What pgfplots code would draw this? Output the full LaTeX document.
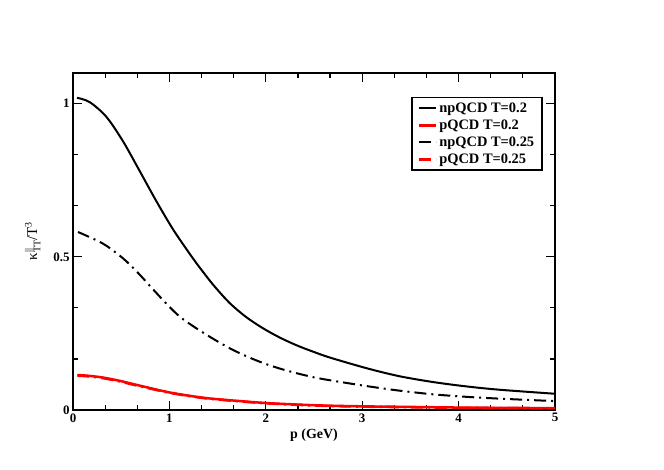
\documentclass[border=0pt]{standalone}
\usepackage{fontspec}
\setmainfont{Liberation Serif}
\usepackage{pgfplots}
\pgfplotsset{compat=1.18}
\pgfplotstableread{
p v
0.041 1.019
0.173 1.005
0.346 0.957
0.519 0.877
0.692 0.780
0.864 0.682
1.037 0.590
1.210 0.510
1.283 0.478
1.456 0.408
1.629 0.348
1.802 0.302
1.975 0.266
2.148 0.236
2.321 0.211
2.494 0.190
2.667 0.171
3.050 0.136
3.390 0.110
3.740 0.091
4.080 0.077
4.430 0.066
5.000 0.053
}\npA
\pgfplotstableread{
p v
0.052 0.581
0.311 0.543
0.519 0.495
0.676 0.447
0.833 0.393
0.972 0.346
1.110 0.304
1.283 0.266
1.456 0.232
1.629 0.201
1.802 0.175
1.975 0.153
2.148 0.135
2.321 0.120
2.494 0.107
2.667 0.097
3.047 0.078
3.390 0.063
3.740 0.051
4.080 0.043
4.430 0.037
5.000 0.029
}\npB
\pgfplotstableread{
p v
0.045 0.114
0.15 0.112
0.31 0.106
0.488 0.095
0.66 0.082
1.006 0.057
1.352 0.040
1.698 0.030
2.043 0.022
2.56 0.015
3.00 0.012
3.50 0.010
4.00 0.008
4.50 0.007
5.00 0.006
}\pA
\pgfplotstableread{
p v
0.045 0.112
0.15 0.110
0.31 0.104
0.488 0.093
0.66 0.080
1.006 0.056
1.352 0.039
1.698 0.029
2.043 0.021
2.56 0.014
3.00 0.011
3.50 0.009
4.00 0.007
4.50 0.006
5.00 0.005
}\pB
\begin{document}
\begin{tikzpicture}
\useasboundingbox (0,0) rectangle (664bp,470bp);
\begin{axis}[
  at={(73bp,60bp)}, anchor=south west,
  scale only axis, width=482bp, height=337bp,
  xmin=0, xmax=5, ymin=0, ymax=1.1,
  xtick={0,1,2,3,4,5}, ytick={0,0.5,1},
  minor x tick num=2, minor y tick num=2,
  tick align=inside, major tick length=9bp, minor tick length=5bp,
  axis line style={line width=1.5bp},
  every tick/.style={line width=1.2bp, black},
  ticklabel style={font=\fontsize{13}{13}\selectfont\bfseries},
  /pgf/number format/assume math mode=true,
  xlabel={p (GeV)},
  xlabel style={font=\fontsize{14}{14}\selectfont\bfseries},
  ylabel={κ\rlap{\raisebox{0.75ex}{\fontsize{10}{10}\selectfont ||}}\raisebox{-0.5ex}{\fontsize{10}{10}\selectfont TT}/T\raisebox{0.8ex}{\fontsize{10}{10}\selectfont 3}},
  ylabel style={font=\fontsize{15}{15}\selectfont, yshift=6bp},
  legend cell align=left,
  legend style={at={(axis description cs:0.975,0.929)}, anchor=north east,
    draw=black, line width=1.5bp, font=\fontsize{14.5}{16}\selectfont\bfseries,
    inner xsep=6bp, inner ysep=3bp, row sep=2bp},
]
\addplot[black, line width=2bp, smooth] table {\npA};
\addlegendentry{npQCD T=0.2}
\addplot[red, line width=2.5bp, smooth] table {\pA};
\addlegendentry{pQCD T=0.2}
\addplot[black, line width=2bp, smooth, dash pattern=on 12bp off 5bp on 2bp off 5bp] table {\npB};
\addlegendentry{npQCD T=0.25}
\addplot[red, line width=2.5bp, smooth, dash pattern=on 12bp off 5bp on 2bp off 5bp] table {\pB};
\addlegendentry{pQCD T=0.25}
\end{axis}
\end{tikzpicture}
\end{document}
